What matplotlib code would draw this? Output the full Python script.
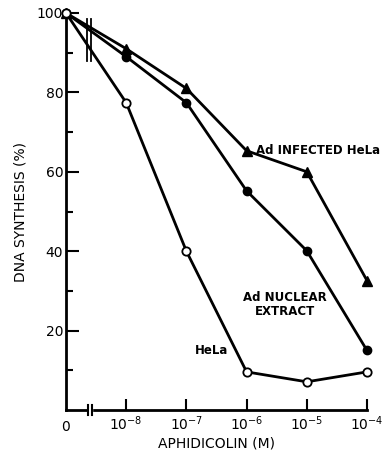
import numpy as np
import matplotlib; matplotlib.use("Agg")
import matplotlib.pyplot as plt

# x positions: "0" drawn one decade left of 1e-8 (axis is broken there)
conc_labels = ["0", r"$10^{-8}$", r"$10^{-7}$", r"$10^{-6}$", r"$10^{-5}$", r"$10^{-4}$"]
log_conc = [-9, -8, -7, -6, -5, -4]

ad_infected = [100, 91, 81, 65.3, 60, 32.6]
ad_nuclear = [100, 89, 77.4, 55.2, 40.1, 15]
hela = [100, 77.4, 40, 9.6, 7.1, 9.6]

plt.rcParams["font.family"] = ["DejaVu Sans"]
plt.rcParams["mathtext.fontset"] = "dejavusans"

fig = plt.figure(figsize=(3.85, 4.59), dpi=100)
ax = fig.add_axes([66 / 385, 49 / 459, 301 / 385, 397 / 459])
ax.set_xlim(-9, -4)
ax.set_ylim(0, 100)

lw = 2.0
ax.plot(log_conc, ad_infected, color="black", lw=lw, marker="^", ms=7, mfc="black", clip_on=False, zorder=3)
ax.plot(log_conc, ad_nuclear, color="black", lw=lw, marker="o", ms=6, mfc="black", clip_on=False, zorder=3)
ax.plot(log_conc, hela, color="black", lw=lw, marker="o", ms=6, mfc="white", mew=1.3, clip_on=False, zorder=3)

for s in ["top", "right"]:
    ax.spines[s].set_visible(False)
ax.spines["left"].set_linewidth(lw)
ax.spines["bottom"].set_linewidth(lw)

ax.set_xticks(log_conc[1:])
ax.set_xticklabels(conc_labels[1:], fontsize=10)
ax.tick_params(axis="x", direction="in", length=8, width=1.5, pad=3)
ax.text(-9, -2.5, conc_labels[0], ha="center", va="top", fontsize=10)

ax.set_yticks([20, 40, 60, 80, 100])
ax.set_yticks([10, 30, 50, 70, 90], minor=True)
ax.tick_params(axis="y", which="major", direction="in", length=9, width=1.5, pad=2, labelsize=10)
ax.tick_params(axis="y", which="minor", direction="in", length=5, width=1.5)

# axis break marks on x axis and across the data lines
for xb in (-8.63, -8.57):
    ax.plot([xb, xb], [-1.3, 1.3], color="black", lw=1.5, clip_on=False, zorder=4)
ax.fill_between([-8.625, -8.575], -0.8, 0.8, color="white", zorder=3.5, clip_on=False)
for xb in (-8.65, -8.58):
    ax.plot([xb, xb], [88, 98.5], color="black", lw=1.3, clip_on=False, zorder=4)

ax.text(-3.79, 65.3, "Ad INFECTED HeLa", ha="right", va="center", fontsize=8.5, fontweight="bold")
ax.text(-5.36, 26.7, "Ad NUCLEAR\nEXTRACT", ha="center", va="center", fontsize=8.5,
        fontweight="bold", linespacing=1.1)
ax.text(-6.3, 15, "HeLa", ha="right", va="center", fontsize=8.5, fontweight="bold")

ax.set_xlabel("APHIDICOLIN (M)", fontsize=10, labelpad=3)
ax.set_ylabel("DNA SYNTHESIS (%)", fontsize=10, labelpad=7)

fig.savefig("out.png", dpi=100, facecolor="white")
